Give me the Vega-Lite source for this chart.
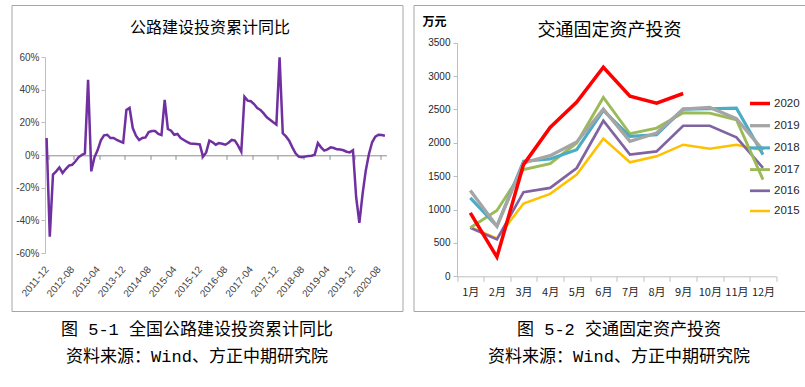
{
  "$schema": "https://vega.github.io/schema/vega-lite/v6.json",
  "padding": {"left": 6.5, "top": 4, "right": 0, "bottom": 0},
  "background": "white",
  "spacing": 9,
  "config": {
    "view": {"stroke": "#a6a6a6", "strokeWidth": 1},
    "font": "Liberation Sans",
    "axis": {"grid": false, "labelColor": "#404040", "domainColor": "#bfbfbf", "tickColor": "#bfbfbf", "labelFont": "Liberation Sans", "labelFontSize": 10}
  },
  "hconcat": [
    {
      "width": 391,
      "height": 306,
      "title": {"text": "公路建设投资累计同比", "font": "Noto Sans CJK SC", "fontSize": 16, "fontWeight": "normal", "color": "#000000", "offset": -31, "anchor": "middle", "dx": 3},
      "data": {"values": [
        {"month": "2011-12", "value": 10.4}, {"month": "2012-01", "value": -50}, {"month": "2012-02", "value": -12}, {"month": "2012-03", "value": -10},
        {"month": "2012-04", "value": -7.6}, {"month": "2012-05", "value": -11}, {"month": "2012-06", "value": -8.6}, {"month": "2012-07", "value": -6.5},
        {"month": "2012-08", "value": -6}, {"month": "2012-09", "value": -4}, {"month": "2012-10", "value": -1.4}, {"month": "2012-11", "value": 0},
        {"month": "2012-12", "value": 1}, {"month": "2013-01", "value": 46}, {"month": "2013-02", "value": -10}, {"month": "2013-03", "value": -1.4},
        {"month": "2013-04", "value": 3}, {"month": "2013-05", "value": 9}, {"month": "2013-06", "value": 12}, {"month": "2013-07", "value": 12.4},
        {"month": "2013-08", "value": 10.4}, {"month": "2013-09", "value": 10.4}, {"month": "2013-10", "value": 9.2}, {"month": "2013-11", "value": 8.4},
        {"month": "2013-12", "value": 7.5}, {"month": "2014-01", "value": 27.5}, {"month": "2014-02", "value": 28.8}, {"month": "2014-03", "value": 16.5},
        {"month": "2014-04", "value": 11.8}, {"month": "2014-05", "value": 9.2}, {"month": "2014-06", "value": 10.4}, {"month": "2014-07", "value": 10.8},
        {"month": "2014-08", "value": 14}, {"month": "2014-09", "value": 14.7}, {"month": "2014-10", "value": 14.7}, {"month": "2014-11", "value": 12.9},
        {"month": "2014-12", "value": 12.2}, {"month": "2015-01", "value": 33.7}, {"month": "2015-02", "value": 15.9}, {"month": "2015-03", "value": 14.9},
        {"month": "2015-04", "value": 12.4}, {"month": "2015-05", "value": 12.9}, {"month": "2015-06", "value": 10.4}, {"month": "2015-07", "value": 9.2},
        {"month": "2015-08", "value": 8}, {"month": "2015-09", "value": 7.1}, {"month": "2015-10", "value": 6.9}, {"month": "2015-11", "value": 6.7},
        {"month": "2015-12", "value": 6.5}, {"month": "2016-01", "value": -1}, {"month": "2016-02", "value": 1.6}, {"month": "2016-03", "value": 8.8},
        {"month": "2016-04", "value": 7.8}, {"month": "2016-05", "value": 6.3}, {"month": "2016-06", "value": 7.3}, {"month": "2016-07", "value": 6.9},
        {"month": "2016-08", "value": 6.3}, {"month": "2016-09", "value": 7.5}, {"month": "2016-10", "value": 9.2}, {"month": "2016-11", "value": 8.8},
        {"month": "2016-12", "value": 5.7}, {"month": "2017-01", "value": 2}, {"month": "2017-02", "value": 35.7}, {"month": "2017-03", "value": 33.3},
        {"month": "2017-04", "value": 32.9}, {"month": "2017-05", "value": 31.2}, {"month": "2017-06", "value": 28.8}, {"month": "2017-07", "value": 27.6},
        {"month": "2017-08", "value": 25.5}, {"month": "2017-09", "value": 23.1}, {"month": "2017-10", "value": 21.6}, {"month": "2017-11", "value": 20},
        {"month": "2017-12", "value": 18.6}, {"month": "2018-01", "value": 59.8}, {"month": "2018-02", "value": 13.3}, {"month": "2018-03", "value": 11.4},
        {"month": "2018-04", "value": 8.8}, {"month": "2018-05", "value": 4.7}, {"month": "2018-06", "value": 1}, {"month": "2018-07", "value": -1},
        {"month": "2018-08", "value": -1.4}, {"month": "2018-09", "value": -1}, {"month": "2018-10", "value": -0.6}, {"month": "2018-11", "value": -0.4},
        {"month": "2018-12", "value": 0.2}, {"month": "2019-01", "value": 7.3}, {"month": "2019-02", "value": 4.7}, {"month": "2019-03", "value": 2.7},
        {"month": "2019-04", "value": 3.5}, {"month": "2019-05", "value": 4.7}, {"month": "2019-06", "value": 4.3}, {"month": "2019-07", "value": 3.5},
        {"month": "2019-08", "value": 3.3}, {"month": "2019-09", "value": 2.9}, {"month": "2019-10", "value": 2}, {"month": "2019-11", "value": 1.6},
        {"month": "2019-12", "value": 2.9}, {"month": "2020-01", "value": -26}, {"month": "2020-02", "value": -41.6}, {"month": "2020-03", "value": -24},
        {"month": "2020-04", "value": -9.6}, {"month": "2020-05", "value": 0.6}, {"month": "2020-06", "value": 7.8}, {"month": "2020-07", "value": 11.2},
        {"month": "2020-08", "value": 12.4}, {"month": "2020-09", "value": 12.2}, {"month": "2020-10", "value": 11.8}
      ]},
      "mark": {"type": "line", "color": "#7030a0", "strokeWidth": 2.5},
      "encoding": {
        "x": {
          "field": "month", "type": "ordinal", "sort": null,
          "scale": {"type": "band", "range": [33.5, 375], "paddingInner": 0, "paddingOuter": 0},
          "axis": {
            "orient": "bottom",
            "values": ["2011-12", "2012-08", "2013-04", "2013-12", "2014-08", "2015-04", "2015-12", "2016-08", "2017-04", "2017-12", "2018-08", "2019-04", "2019-12", "2020-08"],
            "offset": -155.7, "tickBand": "extent", "tickSize": 4, "domainColor": "#8c8c8c", "tickColor": "#8c8c8c",
            "labelAngle": -50, "labelAlign": "right", "labelBaseline": "middle", "labelPadding": 108,
            "labelFont": "Liberation Sans Narrow, Liberation Sans", "labelFontSize": 10, "labelOverlap": false,
            "title": ["图 5-1 全国公路建设投资累计同比", "资料来源：Wind、方正中期研究院"],
            "titleFont": "Liberation Mono, Noto Sans CJK SC", "titleFontSize": 17, "titleFontWeight": "normal", "titleColor": "#000000",
            "titleX": 185, "titleY": 178.7, "titleAlign": "center", "titleAnchor": null, "titleBaseline": "alphabetic", "titleLineHeight": 27, "titleAngle": 0
          }
        },
        "y": {
          "field": "value", "type": "quantitative",
          "scale": {"domain": [-60, 60], "range": [248, 52], "nice": false, "zero": false},
          "axis": {"values": [-60, -40, -20, 0, 20, 40, 60], "offset": -33.5, "labelExpr": "datum.value + '%'", "tickSize": 4, "labelPadding": 2, "title": null,
            "labelFont": "Liberation Sans Narrow, Liberation Sans", "labelFontSize": 10}
        }
      }
    },
    {
      "width": 392,
      "height": 306,
      "title": {"text": "交通固定资产投资", "font": "Noto Sans CJK SC", "fontSize": 18, "fontWeight": "normal", "color": "#000000", "offset": -34.5, "anchor": "middle"},
      "data": {"values": [
        {"month": "1月", "year": "2015", "value": 737}, {"month": "2月", "year": "2015", "value": 568}, {"month": "3月", "year": "2015", "value": 1091}, {"month": "4月", "year": "2015", "value": 1235},
        {"month": "5月", "year": "2015", "value": 1524}, {"month": "6月", "year": "2015", "value": 2062}, {"month": "7月", "year": "2015", "value": 1708}, {"month": "8月", "year": "2015", "value": 1798},
        {"month": "9月", "year": "2015", "value": 1972}, {"month": "10月", "year": "2015", "value": 1912}, {"month": "11月", "year": "2015", "value": 1972}, {"month": "12月", "year": "2015", "value": 1887},
        {"month": "1月", "year": "2016", "value": 727}, {"month": "2月", "year": "2016", "value": 553}, {"month": "3月", "year": "2016", "value": 1260}, {"month": "4月", "year": "2016", "value": 1325},
        {"month": "5月", "year": "2016", "value": 1623}, {"month": "6月", "year": "2016", "value": 2331}, {"month": "7月", "year": "2016", "value": 1823}, {"month": "8月", "year": "2016", "value": 1872},
        {"month": "9月", "year": "2016", "value": 2256}, {"month": "10月", "year": "2016", "value": 2256}, {"month": "11月", "year": "2016", "value": 2082}, {"month": "12月", "year": "2016", "value": 1623},
        {"month": "1月", "year": "2017", "value": 727}, {"month": "2月", "year": "2017", "value": 986}, {"month": "3月", "year": "2017", "value": 1599}, {"month": "4月", "year": "2017", "value": 1688},
        {"month": "5月", "year": "2017", "value": 1997}, {"month": "6月", "year": "2017", "value": 2679}, {"month": "7月", "year": "2017", "value": 2136}, {"month": "8月", "year": "2017", "value": 2221},
        {"month": "9月", "year": "2017", "value": 2450}, {"month": "10月", "year": "2017", "value": 2445}, {"month": "11月", "year": "2017", "value": 2346}, {"month": "12月", "year": "2017", "value": 1449},
        {"month": "1月", "year": "2018", "value": 1175}, {"month": "2月", "year": "2018", "value": 752}, {"month": "3月", "year": "2018", "value": 1723}, {"month": "4月", "year": "2018", "value": 1758},
        {"month": "5月", "year": "2018", "value": 1897}, {"month": "6月", "year": "2018", "value": 2485}, {"month": "7月", "year": "2018", "value": 2097}, {"month": "8月", "year": "2018", "value": 2121},
        {"month": "9月", "year": "2018", "value": 2505}, {"month": "10月", "year": "2018", "value": 2510}, {"month": "11月", "year": "2018", "value": 2520}, {"month": "12月", "year": "2018", "value": 1823},
        {"month": "1月", "year": "2019", "value": 1285}, {"month": "2月", "year": "2019", "value": 750}, {"month": "3月", "year": "2019", "value": 1698}, {"month": "4月", "year": "2019", "value": 1808},
        {"month": "5月", "year": "2019", "value": 2012}, {"month": "6月", "year": "2019", "value": 2505}, {"month": "7月", "year": "2019", "value": 2022}, {"month": "8月", "year": "2019", "value": 2146},
        {"month": "9月", "year": "2019", "value": 2505}, {"month": "10月", "year": "2019", "value": 2530}, {"month": "11月", "year": "2019", "value": 2361}, {"month": "12月", "year": "2019", "value": 1890},
        {"month": "1月", "year": "2020", "value": 951}, {"month": "2月", "year": "2020", "value": 289}, {"month": "3月", "year": "2020", "value": 1673}, {"month": "4月", "year": "2020", "value": 2231},
        {"month": "5月", "year": "2020", "value": 2610}, {"month": "6月", "year": "2020", "value": 3132}, {"month": "7月", "year": "2020", "value": 2699}, {"month": "8月", "year": "2020", "value": 2595},
        {"month": "9月", "year": "2020", "value": 2739}
      ]},
      "mark": {"type": "line"},
      "encoding": {
        "x": {
          "field": "month", "type": "ordinal",
          "sort": ["1月", "2月", "3月", "4月", "5月", "6月", "7月", "8月", "9月", "10月", "11月", "12月"],
          "scale": {"type": "band", "range": [43.5, 362.8], "paddingInner": 0, "paddingOuter": 0},
          "axis": {
            "orient": "bottom", "offset": -34.7, "tickBand": "extent", "tickSize": 5, "labelAngle": 0, "labelPadding": 5,
            "labelFont": "Noto Sans CJK SC", "labelFontSize": 11, "labelColor": "#262626",
            "title": ["图 5-2 交通固定资产投资", "资料来源：Wind、方正中期研究院"],
            "titleFont": "Liberation Mono, Noto Sans CJK SC", "titleFontSize": 17, "titleFontWeight": "normal", "titleColor": "#000000",
            "titleX": 205, "titleY": 57.7, "titleAlign": "center", "titleAnchor": null, "titleBaseline": "alphabetic", "titleLineHeight": 27, "titleAngle": 0
          }
        },
        "y": {
          "field": "value", "type": "quantitative",
          "scale": {"domain": [0, 3500], "range": [271.3, 37.7], "nice": false},
          "axis": {
            "values": [0, 500, 1000, 1500, 2000, 2500, 3000, 3500], "format": "d", "offset": -43.5, "tickSize": 4, "labelPadding": 3,
            "labelFont": "Liberation Sans", "labelFontSize": 10, "labelColor": "#262626",
            "title": "万元", "titleAngle": 0, "titleX": -35, "titleY": 16, "titleAlign": "left", "titleBaseline": "middle",
            "titleFont": "Noto Sans CJK SC", "titleFontSize": 12, "titleFontWeight": "bold", "titleColor": "#000000"
          }
        },
        "color": {
          "field": "year", "type": "nominal",
          "scale": {"domain": ["2020", "2019", "2018", "2017", "2016", "2015"], "range": ["#ff0000", "#a5a5a5", "#4bacc6", "#9bbb59", "#8064a2", "#ffc000"]},
          "legend": {"orient": "none", "legendX": 736.5, "legendY": 86.5, "title": null, "symbolType": "stroke", "symbolSize": 400, "padding": 0,
            "rowPadding": 3.2, "labelOffset": 2, "labelFont": "Liberation Sans Narrow, Liberation Sans", "labelFontSize": 11.5, "labelColor": "#262626"}
        },
        "strokeWidth": {
          "field": "year", "type": "nominal",
          "scale": {"domain": ["2020", "2019", "2018", "2017", "2016", "2015"], "range": [3.5, 2.5, 2, 2, 2, 2]},
          "legend": {"orient": "none", "legendX": 736.5, "legendY": 86.5, "title": null, "symbolType": "stroke", "symbolSize": 400, "padding": 0,
            "rowPadding": 3.2, "labelOffset": 2, "labelFont": "Liberation Sans Narrow, Liberation Sans", "labelFontSize": 11.5, "labelColor": "#262626"}
        }
      }
    }
  ]
}
